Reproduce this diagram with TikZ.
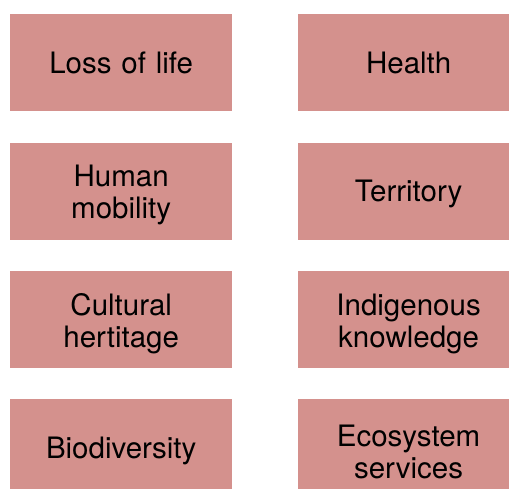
\documentclass[tikz,border=0pt]{standalone}
\usepackage{fontspec}
\setmainfont{TeX Gyre Heros}
\usepackage{tikz}
\usetikzlibrary{positioning}
\definecolor{impactred}{RGB}{212,145,141}
\tikzstyle{impact} = [rectangle,
minimum width=222pt,
minimum height=97pt,
text centered,
text width=200pt,
font=\fontsize{29.5}{32}\selectfont,
execute at end node={\vspace{-8pt}}, % sit the text a little lower
fill=impactred]

\begin{document}
\begin{tikzpicture}[node distance=31pt and 65pt, x=1pt, y=-1pt]
            \clip (0,0) rectangle (509,489);
            % left column
            \node (loss) [impact, anchor=north west] at (10,14) {Loss of life};
            \node (mobility) [impact, below=of loss] {Human\\mobility};
            \node (heritage) [impact, below=of mobility] {Cultural\\hertitage};
            \node (biodiv) [impact, below=of heritage] {Biodiversity};
            % right column
            \node (health) [impact, right=of loss] {Health};
            \node (territory) [impact, right=of mobility] {Territory};
            \node (knowledge) [impact, right=of heritage] {Indigenous\\knowledge};
            \node (ecosys) [impact, right=of biodiv] {Ecosystem\\services};
        \end{tikzpicture}
\end{document}
